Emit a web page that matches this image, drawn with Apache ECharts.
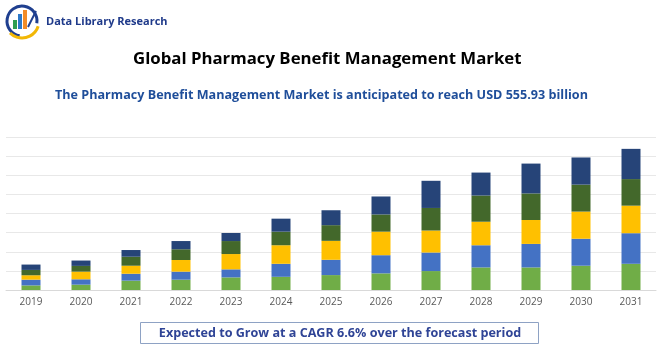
<!DOCTYPE html>
<html>
<head>
<meta charset="utf-8">
<script src="https://cdn.jsdelivr.net/npm/echarts@6/dist/echarts.min.js"></script>
<style>
  html, body { margin: 0; padding: 0; background: #fff; }
  #chart { width: 670px; height: 350px; }
</style>
</head>
<body>
<div id="chart"></div>
<script>
  // values (arbitrary units, one gridline = 1)
  const years = ["2019", "2020", "2021", "2022", "2023", "2024", "2025", "2026", "2027", "2028", "2029", "2030", "2031"];
  const seg1 = [0.24, 0.28, 0.49, 0.54, 0.66, 0.69, 0.78, 0.87, 0.99, 1.18, 1.18, 1.27, 1.37];
  const seg2 = [0.30, 0.28, 0.36, 0.42, 0.42, 0.68, 0.80, 0.95, 0.97, 1.16, 1.23, 1.41, 1.60];
  const seg3 = [0.23, 0.40, 0.42, 0.61, 0.80, 0.97, 0.99, 1.23, 1.15, 1.23, 1.25, 1.42, 1.44];
  const seg4 = [0.28, 0.30, 0.47, 0.56, 0.68, 0.71, 0.82, 0.90, 1.18, 1.37, 1.39, 1.41, 1.39];
  const seg5 = [0.28, 0.28, 0.35, 0.43, 0.42, 0.68, 0.78, 0.94, 1.42, 1.20, 1.56, 1.42, 1.58];
  const colors = ["#70AD47", "#4472C4", "#FFC000", "#43682B", "#264478"];

  let chart = echarts.init(document.getElementById("chart"));

  const segs = [seg1, seg2, seg3, seg4, seg5];
  const series = segs.map((d, i) => {
    return {
      type: "bar",
      stack: "total",
      barWidth: 19,
      data: d,
      itemStyle: { color: colors[i] },
      silent: true
    };
  });

  chart.setOption({
    animation: false,
    title: [
      {
        text: "Global Pharmacy Benefit Management Market",
        left: 128,
        top: 46,
        textStyle: { fontFamily: "Open Sans", fontWeight: "bold", fontSize: 16.8, color: "#000" }
      },
      {
        text: "The Pharmacy Benefit Management Market is anticipated to reach USD 555.93 billion",
        left: 50,
        top: 84,
        textStyle: { fontFamily: "Open Sans", fontWeight: "bold", fontSize: 12.6, color: "#1F4E9A" }
      }
    ],
    grid: { left: 6, right: 14, top: 137, bottom: 60 },
    xAxis: {
      type: "category",
      data: years,
      axisLine: { lineStyle: { color: "#D9D9D9" } },
      axisTick: { show: false },
      axisLabel: { color: "#595959", fontFamily: "Open Sans", fontSize: 10, margin: 7 }
    },
    yAxis: {
      type: "value",
      min: 0,
      max: 8,
      interval: 1,
      axisLabel: { show: false },
      axisLine: { show: false },
      axisTick: { show: false },
      splitLine: { lineStyle: { color: "#E8E8E8" } }
    },
    series: series,
    graphic: [
      // logo
      {
        type: "arc",
        shape: { cx: 22, cy: 21, r: 15, startAngle: Math.PI * 0.55, endAngle: Math.PI * 2.05 },
        style: { stroke: "#1F3F8F", lineWidth: 3, fill: null }
      },
      {
        type: "arc",
        shape: { cx: 22, cy: 21, r: 17, startAngle: Math.PI * 0.1, endAngle: Math.PI * 0.75 },
        style: { stroke: "#F2B705", lineWidth: 3, fill: null }
      },
      { type: "rect", shape: { x: 13, y: 20, width: 4, height: 9 }, style: { fill: "#2E9E4F" } },
      { type: "rect", shape: { x: 18, y: 14, width: 4, height: 15 }, style: { fill: "#2C78C8" } },
      { type: "rect", shape: { x: 23, y: 10, width: 4, height: 19 }, style: { fill: "#F28C28" } },
      {
        type: "polyline",
        shape: { points: [[28, 27], [33, 17], [36, 11]] },
        style: { stroke: "#1F3F8F", lineWidth: 2 }
      },
      {
        type: "text",
        left: 46,
        top: 16,
        style: { text: "Data Library Research", font: "bold 11px 'Open Sans'", fill: "#1F3A8A" }
      },
      // bottom box
      {
        type: "rect",
        shape: { x: 140.5, y: 322.5, width: 398, height: 21 },
        style: { fill: "#fff", stroke: "#8EA2C4", lineWidth: 1 }
      },
      {
        type: "text",
        x: 340,
        y: 333,
        style: {
          text: "Expected to Grow at a CAGR 6.6% over the forecast period",
          font: "bold 12.6px 'Open Sans'",
          fill: "#2F4496",
          align: "center",
          verticalAlign: "middle"
        }
      }
    ]
  });
</script>
</body>
</html>
